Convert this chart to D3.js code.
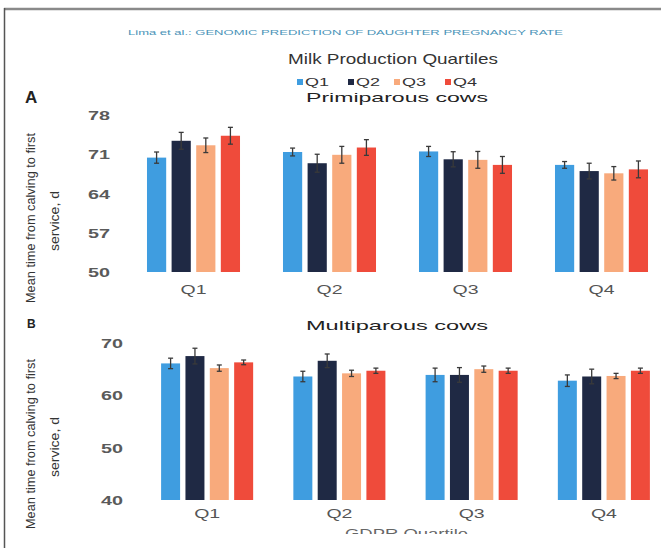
<!DOCTYPE html>
<html>
<head>
<meta charset="utf-8">
<script src="https://cdn.jsdelivr.net/npm/d3@7"></script>
<style>
  html, body { margin: 0; padding: 0; background: #ffffff; }
  svg { display: block; font-family: "Liberation Sans", Arial, sans-serif; }
</style>
</head>
<body>
<svg id="chart" width="661" height="548"></svg>
<script>
// GDPR quartile groups on the x axis, milk production quartiles within each group
const gdprQuartiles = ["Q1", "Q2", "Q3", "Q4"];
const milkQuartiles = ["Q1", "Q2", "Q3", "Q4"];
const milkColors = ["#3f9de0", "#1f2944", "#f8aa7c", "#ef4b3b"];

// Mean time from calving to first service (d), rows = GDPR quartile, cols = milk quartile
const primiMeans = [
  [70.4, 73.4, 72.6, 74.3],
  [71.4, 69.4, 70.9, 72.2],
  [71.5, 70.1, 70.0, 69.1],
  [69.1, 68.0, 67.6, 68.3]
];
const primiSE = [
  [1.0, 1.5, 1.3, 1.5],
  [0.7, 1.6, 1.5, 1.4],
  [0.9, 1.35, 1.5, 1.5],
  [0.6, 1.4, 1.2, 1.5]
];
const multiMeans = [
  [66.1, 67.5, 65.2, 66.3],
  [63.6, 66.6, 64.2, 64.7],
  [63.9, 63.9, 65.0, 64.7],
  [62.8, 63.6, 63.7, 64.7]
];
const multiSE = [
  [1.0, 1.5, 0.6, 0.45],
  [1.0, 1.3, 0.6, 0.5],
  [1.3, 1.4, 0.6, 0.5],
  [1.1, 1.4, 0.5, 0.5]
];
const primiTicks = [50, 57, 64, 71, 78];
const multiTicks = [40, 50, 60, 70];

const svg = d3.select("#chart");

// page frame
svg.append("line").attr("x1", 4).attr("x2", 661).attr("y1", 9).attr("y2", 9)
  .attr("stroke", "#8a8a8a").attr("stroke-width", 2.5);
svg.append("line").attr("x1", 4.5).attr("x2", 4.5).attr("y1", 8).attr("y2", 548)
  .attr("stroke", "#555").attr("stroke-width", 1.5);

// running head
svg.append("text")
  .attr("x", 128).attr("y", 35)
  .attr("textLength", 435).attr("lengthAdjust", "spacingAndGlyphs")
  .attr("font-size", 7.5).attr("fill", "#4a93b8")
  .text("Lima et al.: GENOMIC PREDICTION OF DAUGHTER PREGNANCY RATE");

// legend
svg.append("text")
  .attr("x", 288).attr("y", 64)
  .attr("textLength", 210).attr("lengthAdjust", "spacingAndGlyphs")
  .attr("font-size", 15).attr("fill", "#333")
  .text("Milk Production Quartiles");

const legendX = [297, 348, 394, 445];
const legend = svg.append("g");
milkQuartiles.forEach((q, i) => {
  legend.append("rect")
    .attr("x", legendX[i]).attr("y", 79).attr("width", 6).attr("height", 6)
    .attr("fill", milkColors[i]);
  legend.append("text")
    .attr("x", legendX[i] + 8).attr("y", 86)
    .attr("textLength", 24).attr("lengthAdjust", "spacingAndGlyphs")
    .attr("font-size", 11.5).attr("fill", "#333")
    .text(q);
});

function drawPanel(cfg) {
  const g = svg.append("g");

  const y = d3.scaleLinear().domain(cfg.domain).range([cfg.yBottom, cfg.yTop]);
  const x0 = d3.scaleBand().domain(gdprQuartiles).range(cfg.xRange)
    .paddingInner(cfg.groupPad).paddingOuter(cfg.groupPad / 2);
  const x1 = d3.scaleBand().domain(milkQuartiles).range([0, x0.bandwidth()])
    .paddingInner(0.22).paddingOuter(0);

  // panel letter
  g.append("text")
    .attr("x", cfg.letterX).attr("y", cfg.letterY)
    .attr("font-size", cfg.letterSize).attr("font-weight", "bold").attr("fill", "#222")
    .text(cfg.letter);

  // panel title
  g.append("text")
    .attr("x", 306).attr("y", cfg.titleY)
    .attr("textLength", 182).attr("lengthAdjust", "spacingAndGlyphs")
    .attr("font-size", 13.5).attr("fill", "#222")
    .text(cfg.title);

  // y axis (labels only)
  const yAxis = d3.axisLeft(y).tickValues(cfg.ticks).tickSize(0).tickPadding(0);
  const ya = g.append("g")
    .attr("transform", `translate(${cfg.tickRight},0)`)
    .call(yAxis);
  ya.select(".domain").remove();
  ya.selectAll("text")
    .attr("font-size", 12.5).attr("font-weight", "bold").attr("fill", "#5a5a5a")
    .attr("font-family", "'Liberation Sans', Arial, sans-serif")
    .attr("textLength", 22).attr("lengthAdjust", "spacingAndGlyphs")
    .attr("dy", "0.36em");

  // y axis title, two rotated lines
  const ymid = cfg.ylabelMid;
  g.append("text")
    .attr("transform", `translate(35,${ymid}) rotate(-90)`)
    .attr("text-anchor", "middle")
    .attr("textLength", 170).attr("lengthAdjust", "spacingAndGlyphs")
    .attr("font-size", 12).attr("fill", "#333")
    .text("Mean time from calving to first");
  g.append("text")
    .attr("transform", `translate(59,${ymid + 3}) rotate(-90)`)
    .attr("text-anchor", "middle")
    .attr("textLength", 60).attr("lengthAdjust", "spacingAndGlyphs")
    .attr("font-size", 12).attr("fill", "#333")
    .text("service, d");

  // x axis group labels
  const xAxis = d3.axisBottom(x0).tickSize(0).tickPadding(0);
  const xa = g.append("g")
    .attr("transform", `translate(0,${cfg.xLabelY})`)
    .call(xAxis);
  xa.select(".domain").remove();
  xa.selectAll("text")
    .attr("font-size", 12.5).attr("fill", "#555")
    .attr("font-family", "'Liberation Sans', Arial, sans-serif")
    .attr("textLength", 26).attr("lengthAdjust", "spacingAndGlyphs")
    .attr("dy", "0.71em");

  // bars
  const groupsSel = g.append("g").selectAll("g")
    .data(gdprQuartiles)
    .join("g")
    .attr("transform", d => `translate(${x0(d)},0)`);

  groupsSel.each(function (gq, gi) {
    const sel = d3.select(this);
    const rows = milkQuartiles.map((mq, mi) => ({
      mq, mi, v: cfg.means[gi][mi], se: cfg.se[gi][mi]
    }));
    sel.selectAll("rect")
      .data(rows)
      .join("rect")
      .attr("x", d => x1(d.mq))
      .attr("width", x1.bandwidth())
      .attr("y", d => y(d.v))
      .attr("height", d => y(cfg.domain[0]) - y(d.v))
      .attr("fill", d => milkColors[d.mi]);

    // error bars
    const eb = sel.selectAll("g.err")
      .data(rows)
      .join("g").attr("class", "err")
      .attr("stroke", "#3a3a3a").attr("stroke-width", 1.3);
    eb.append("line")
      .attr("x1", d => x1(d.mq) + x1.bandwidth() / 2)
      .attr("x2", d => x1(d.mq) + x1.bandwidth() / 2)
      .attr("y1", d => y(d.v + d.se))
      .attr("y2", d => y(d.v - d.se));
    [1, -1].forEach(s => {
      eb.append("line")
        .attr("x1", d => x1(d.mq) + x1.bandwidth() / 2 - 2.5)
        .attr("x2", d => x1(d.mq) + x1.bandwidth() / 2 + 2.5)
        .attr("y1", d => y(d.v + s * d.se))
        .attr("y2", d => y(d.v + s * d.se));
    });
  });
}

// A: primiparous cows
drawPanel({
  letter: "A", letterX: 25, letterY: 103, letterSize: 17,
  title: "Primiparous cows", titleY: 102,
  domain: [50, 78], yBottom: 272, yTop: 115,
  xRange: [125.5, 669.5], groupPad: 0.316,
  tickRight: 110, xLabelY: 285, ylabelMid: 218,
  ticks: primiTicks, means: primiMeans, se: primiSE
});

// B: multiparous cows
drawPanel({
  letter: "B", letterX: 27, letterY: 328, letterSize: 12,
  title: "Multiparous cows", titleY: 330,
  domain: [40, 70], yBottom: 500, yTop: 343,
  xRange: [141, 670], groupPad: 0.304,
  tickRight: 123, xLabelY: 509, ylabelMid: 444,
  ticks: multiTicks, means: multiMeans, se: multiSE
});

// x axis title, cut off at the lower edge of the scan
svg.append("defs").append("clipPath").attr("id", "cut")
  .append("rect").attr("x", 0).attr("y", 0).attr("width", 661).attr("height", 534);
svg.append("text")
  .attr("clip-path", "url(#cut)")
  .attr("x", 345).attr("y", 538)
  .attr("textLength", 123).attr("lengthAdjust", "spacingAndGlyphs")
  .attr("font-size", 12).attr("fill", "#666")
  .text("GDPR Quartile");
</script>
</body>
</html>
